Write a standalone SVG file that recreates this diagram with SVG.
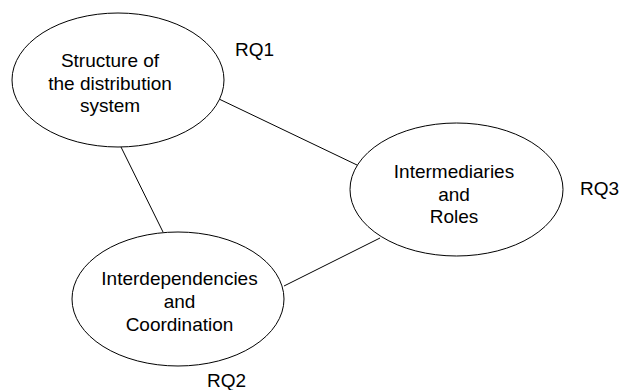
<svg xmlns="http://www.w3.org/2000/svg" width="622" height="390" viewBox="0 0 622 390">
  <style>
    .node { fill: #ffffff; stroke: #000000; stroke-width: 1; }
    .edge { stroke: #000000; stroke-width: 1; fill: none; }
    text { font-family: "Liberation Sans", Arial, sans-serif; font-size: 19px; fill: #000000; }
    .c { text-anchor: middle; }
  </style>
  <rect width="622" height="390" fill="#ffffff"/>
  <g id="connectors">
    <line class="edge" x1="219" y1="99" x2="357" y2="165"/>
    <line class="edge" x1="121" y1="147" x2="163" y2="232"/>
    <line class="edge" x1="380" y1="238" x2="284" y2="286"/>
  </g>
  <g id="rq1-structure">
    <ellipse class="node" cx="118" cy="80" rx="106" ry="67"/>
    <text class="c" x="110" y="67">Structure of</text>
    <text class="c" x="110" y="90">the distribution</text>
    <text class="c" x="110" y="112">system</text>
    <text x="235" y="56">RQ1</text>
  </g>
  <g id="rq3-intermediaries">
    <ellipse class="node" cx="456.5" cy="189.5" rx="106.5" ry="66.5"/>
    <text class="c" x="454" y="178">Intermediaries</text>
    <text class="c" x="454" y="201">and</text>
    <text class="c" x="454" y="223">Roles</text>
    <text x="580" y="195">RQ3</text>
  </g>
  <g id="rq2-interdependencies">
    <ellipse class="node" cx="178" cy="299" rx="106" ry="67"/>
    <text class="c" x="179.5" y="285">Interdependencies</text>
    <text class="c" x="179.5" y="308">and</text>
    <text class="c" x="179.5" y="331">Coordination</text>
    <text x="207" y="387">RQ2</text>
  </g>
</svg>
